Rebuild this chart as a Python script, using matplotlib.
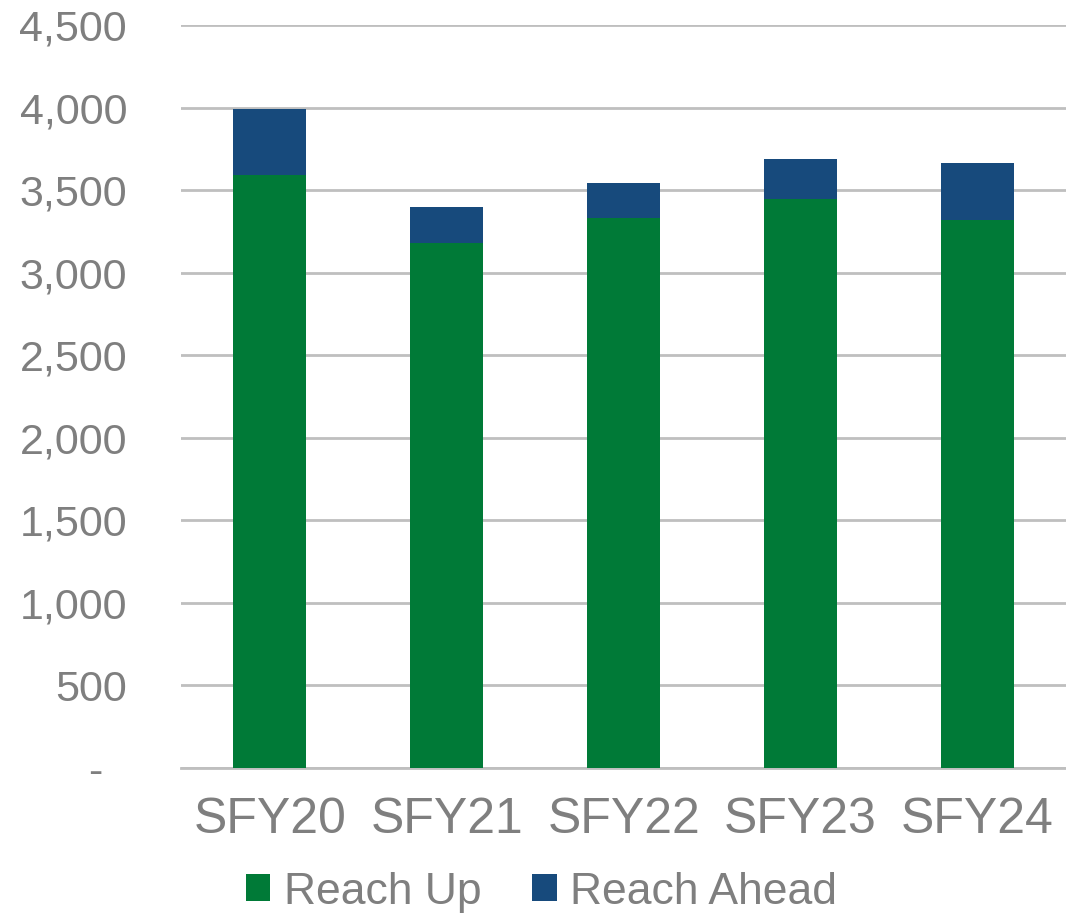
import matplotlib.pyplot as plt
import matplotlib

plt.rcParams['font.family'] = ['Liberation Sans', 'DejaVu Sans']

years = ["SFY20", "SFY21", "SFY22", "SFY23", "SFY24"]
reach_up = [3590, 3182, 3331, 3444, 3319]
reach_ahead = [400, 216, 213, 247, 346]
y_ticks = [0, 500, 1000, 1500, 2000, 2500, 3000, 3500, 4000, 4500]
y_labels = ["-  ", "500", "1,000", "1,500", "2,000", "2,500", "3,000", "3,500", "4,000", "4,500"]

green = "#007A37"
blue = "#174A7C"
grey_text = "#7F7F7F"
grid_col = "#BFBFBF"


def main():
    fig = plt.figure(figsize=(10.66, 9.13), dpi=100)
    ax = fig.add_axes([0.170, 0.1588, 0.830, 0.8138])

    x = range(len(years))
    ax.bar(x, reach_up, width=0.41, color=green, label="Reach Up", zorder=3)
    ax.bar(x, reach_ahead, width=0.41, bottom=reach_up, color=blue,
           label="Reach Ahead", zorder=3)

    ax.set_xlim(-0.5, len(years) - 0.5)
    ax.set_ylim(0, 4500)
    ax.set_yticks(y_ticks)
    ax.set_yticklabels(y_labels)
    ax.set_xticks(list(x))
    ax.set_xticklabels(years)

    ax.yaxis.grid(True, color=grid_col, lw=2, zorder=0)
    ax.set_axisbelow(True)
    for side in ["top", "right", "left"]:
        ax.spines[side].set_visible(False)
    ax.spines["bottom"].set_color(grid_col)
    ax.spines["bottom"].set_linewidth(2)

    ax.tick_params(axis="y", length=0, pad=39, labelsize=31, labelcolor=grey_text)
    ax.tick_params(axis="x", length=0, pad=21, labelsize=36, labelcolor=grey_text)

    fig.legend(loc="center", bbox_to_anchor=(0.508, 0.023), ncol=2,
               frameon=False, fontsize=32, labelcolor=grey_text,
               handlelength=0.55, handleheight=0.55, handletextpad=0.3,
               columnspacing=1.15)

    fig.savefig("out.png", dpi=100)


if __name__ == '__main__':
    main()
